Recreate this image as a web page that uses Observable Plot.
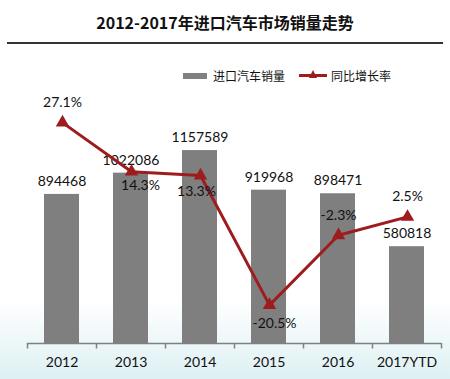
<!DOCTYPE html>
<html><head><meta charset="utf-8">
<script src="https://cdn.jsdelivr.net/npm/d3@7"></script>
<script src="https://cdn.jsdelivr.net/npm/@observablehq/plot@0.6"></script>
<style>
html,body{margin:0;padding:0;}
body{width:450px;height:379px;overflow:hidden;background:linear-gradient(to bottom,#ffffff 0px,#ffffff 300px,#ddf0f3 379px);}
#wrap{position:relative;width:450px;height:379px;}
#wrap svg{position:absolute;left:0;top:0;}
#title{position:absolute;left:0;top:10px;width:450px;text-align:center;font:bold 16px "Noto Sans CJK SC",sans-serif;color:#111;}
#rule{position:absolute;left:7px;top:42px;width:436px;height:2px;background:#333;}
#legend{position:absolute;top:67px;left:183px;font:12px "Noto Sans CJK SC",sans-serif;color:#111;display:flex;align-items:center;}
.sw{display:inline-block;width:24px;height:6px;background:#808080;margin-right:6px;}
.ln{position:relative;display:inline-block;width:28px;height:3px;background:#9e1c1e;margin:0 4px 0 14px;}
.ln i{position:absolute;left:10px;top:-4px;width:0;height:0;border-left:4px solid transparent;border-right:4px solid transparent;border-bottom:8px solid #9e1c1e;}
</style></head>
<body><div id="wrap">
<div id="title">2012-2017年进口汽车市场销量走势</div>
<div id="rule"></div>
<div id="legend"><span class="sw"></span><span>进口汽车销量</span><span class="ln"><i></i></span><span>同比增长率</span></div>
</div>
<script>
const categories = ["2012","2013","2014","2015","2016","2017YTD"];
const sales = [894468,1022086,1157589,919968,898471,580818];
const growth = [27.1,14.3,13.3,-20.5,-2.3,2.5];
const growthLabels = ["27.1%","14.3%","13.3%","-20.5%","-2.3%","2.5%"];

const barData = categories.map((c,i)=>({cat:c, v:sales[i]}));
const lineData = categories.map((c,i)=>({cat:c, g:growth[i], t:growthLabels[i], i}));
const font = "Lato, sans-serif";
const xOpts = {domain: categories, paddingInner: 0.5, paddingOuter: 0.25, axis: null};
const wrap = document.getElementById("wrap");

const p1 = Plot.plot({
  width: 450, height: 379,
  marginLeft: 27, marginRight: 9, marginTop: 143, marginBottom: 36,
  style: {background: "transparent", fontFamily: font, fontSize: "14px", color: "#111", overflow: "visible"},
  x: xOpts,
  y: {domain: [0, 1200000], axis: null},
  marks: [
    Plot.barY(barData, {x: "cat", y: "v", fill: "#7f7f7f"}),
    Plot.ruleY([0], {stroke: "#808080", strokeWidth: 1.5}),
    Plot.ruleX(categories, {x: d=>d, dx: -34.5, y1: 0, y2: -33000, stroke: "#808080", strokeWidth: 1.5}),
    Plot.ruleX(categories.slice(-1), {x: d=>d, dx: 34.5, y1: 0, y2: -33000, stroke: "#808080", strokeWidth: 1.5}),
    Plot.text(categories, {x: d=>d, y: 0, dy: 19, text: d=>d, fill: "#111", fontSize: 14}),
    Plot.text(barData, {x: "cat", y: "v", text: d=>String(d.v), dy: -13, fill: "#111", fontSize: 14})
  ]
});
wrap.appendChild(p1);

const tri = (idx, dx, dy) => Plot.text(lineData, {filter: d=>d.i===idx, x: "cat", y: "g", text: "t", dx, dy, fill: "#111", fontSize: 14});
const p2 = Plot.plot({
  width: 450, height: 379,
  marginLeft: 27, marginRight: 9, marginTop: 111, marginBottom: 38,
  style: {background: "transparent", fontFamily: font, fontSize: "14px", color: "#111", overflow: "visible"},
  x: xOpts,
  y: {domain: [-30, 30], axis: null},
  marks: [
    Plot.line(lineData, {x: "cat", y: "g", stroke: "#9e1c1e", strokeWidth: 3}),
    Plot.dot(lineData, {x: "cat", y: "g", symbol: "triangle", r: 5, fill: "#9e1c1e", stroke: "none"}),
    tri(0, 0, -20), tri(1, 9, 14), tri(2, -4, 16), tri(3, 5, 18), tri(4, 0, -20), tri(5, 0, -20)
  ]
});
wrap.appendChild(p2);
</script>
</body></html>
